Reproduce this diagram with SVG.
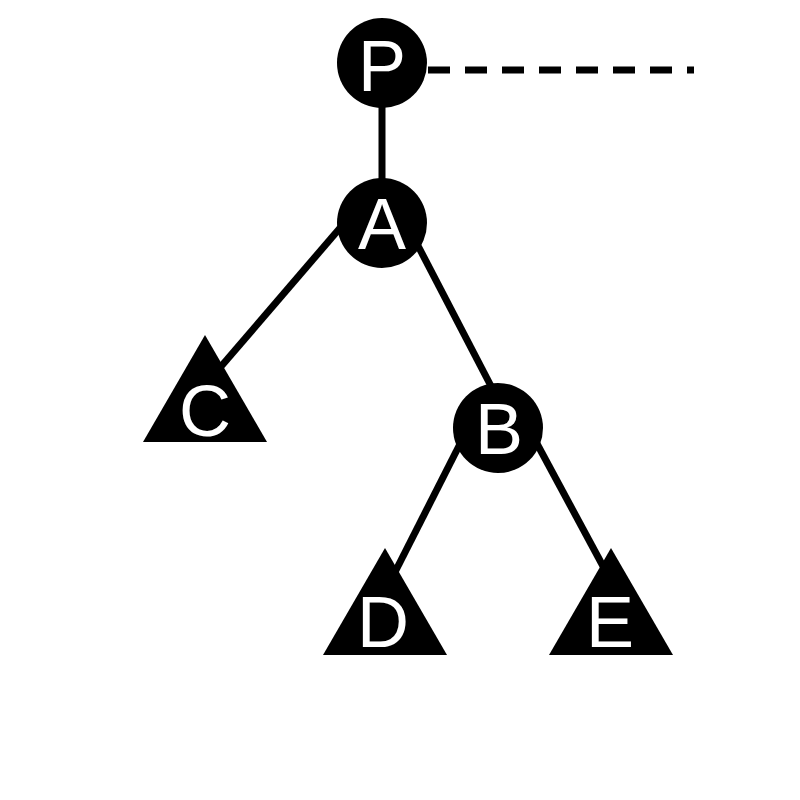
<svg xmlns="http://www.w3.org/2000/svg" width="800" height="800" viewBox="0 0 800 800">
<style>
.edge{stroke:#000;stroke-width:7;fill:none}
.dash{stroke:#000;stroke-width:7;fill:none;stroke-dasharray:22 15}
.node{fill:#000}
.lbl{fill:#fff;font-family:"Liberation Sans",Arial,sans-serif;font-size:72px;text-anchor:middle}
</style>
<rect width="800" height="800" fill="#fff"/>
<g id="connectors">
<line class="dash" x1="428" y1="70" x2="694" y2="70"/>
<line class="edge" x1="382" y1="100" x2="382" y2="185"/>
<line class="edge" x1="340" y1="228" x2="218" y2="370"/>
<line class="edge" x1="415" y1="240" x2="492" y2="388"/>
<line class="edge" x1="462" y1="440" x2="392" y2="578"/>
<line class="edge" x1="535" y1="440" x2="604" y2="568"/>
</g>
<g id="P"><circle class="node" cx="382" cy="63" r="45"/><text class="lbl" x="382" y="91">P</text></g>
<g id="A"><circle class="node" cx="382" cy="223" r="45"/><text class="lbl" x="382" y="249">A</text></g>
<g id="B"><circle class="node" cx="498" cy="428" r="45"/><text class="lbl" x="499" y="454">B</text></g>
<g id="C"><polygon class="node" points="205,335 267,442 143,442"/><text class="lbl" x="205" y="436">C</text></g>
<g id="D"><polygon class="node" points="385,548 447,655 323,655"/><text class="lbl" x="383" y="647">D</text></g>
<g id="E"><polygon class="node" points="611,548 673,655 549,655"/><text class="lbl" x="610" y="647">E</text></g>
</svg>
